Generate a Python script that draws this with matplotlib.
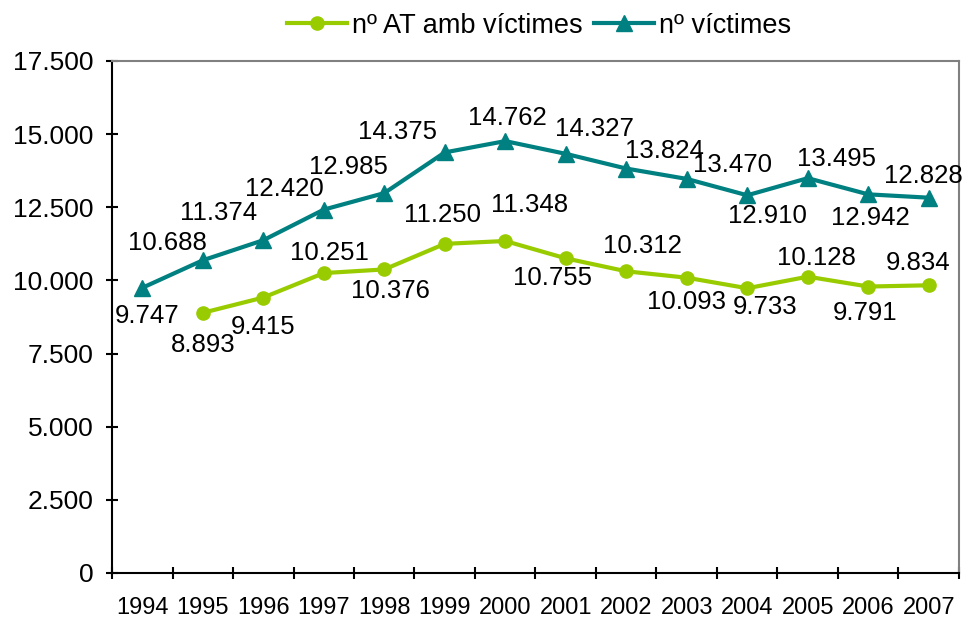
import numpy as np
import matplotlib.pyplot as plt
from matplotlib.ticker import FuncFormatter, FixedLocator

plt.rcParams['font.family'] = ['Liberation Sans', 'DejaVu Sans']

years = ["1994", "1995", "1996", "1997", "1998", "1999", "2000",
         "2001", "2002", "2003", "2004", "2005", "2006", "2007"]
# nº AT amb víctimes (no value for 1994)
accidents = [np.nan, 8893, 9415, 10251, 10376, 11250, 11348,
             10755, 10312, 10093, 9733, 10128, 9791, 9834]
# nº víctimes
victims = [9747, 10688, 11374, 12420, 12985, 14375, 14762,
           14327, 13824, 13470, 12910, 13495, 12942, 12828]

# label offsets in pixels (dx, dy, dy positive = up)
acc_offsets = [None, (0, -32), (0, -29), (6, 20), (6, -22), (-2, 29), (24, 36),
               (-13, -20), (16, 25), (0, -24), (18, -19), (9, 19), (-3, -26), (-11, 22)]
vic_offsets = [(5, -28), (-35, 17), (-45, 27), (-39, 21), (-36, 26), (-47, 20), (2, 23),
               (29, 25), (38, 18), (46, 14), (20, -21), (29, 19), (2, -24), (-5, 22)]

green = "#99CC00"
teal = "#008080"


def fmt(v, pos=None):
    return "{:,.0f}".format(v).replace(",", ".")


def main():
    fig = plt.figure(figsize=(9.65, 6.18), dpi=100)
    ax = fig.add_axes([112 / 965, 45 / 618, 847 / 965, 512 / 618])

    x = np.arange(len(years))
    l1, = ax.plot(x, accidents, color=green, lw=3, marker="o", markersize=9.5,
                  label="nº AT amb víctimes", zorder=3)
    l2, = ax.plot(x, victims, color=teal, lw=3, marker="^", markersize=11,
                  label="nº víctimes", zorder=3)

    for xi, v, off in zip(x, accidents, acc_offsets):
        if off is None or np.isnan(v):
            continue
        ax.annotate(fmt(v), (xi, v), xytext=off, textcoords="offset pixels",
                    ha="center", va="center", fontsize=18.5)
    for xi, v, off in zip(x, victims, vic_offsets):
        ax.annotate(fmt(v), (xi, v), xytext=off, textcoords="offset pixels",
                    ha="center", va="center", fontsize=18.5)

    ax.set_xlim(-0.5, len(years) - 0.5)
    ax.set_ylim(0, 17500)
    ax.set_yticks(np.arange(0, 17501, 2500))
    ax.yaxis.set_major_formatter(FuncFormatter(fmt))

    ax.set_xticks(x)
    ax.set_xticklabels(years)
    ax.xaxis.set_minor_locator(FixedLocator(np.arange(-0.5, len(years), 1.0)))
    ax.tick_params(axis="x", which="major", length=0, labelsize=17, pad=17)
    ax.tick_params(axis="x", which="minor", direction="inout", length=9, width=1.5)
    ax.tick_params(axis="y", direction="inout", length=9, width=1.5, labelsize=19, pad=9)

    for side in ["left", "bottom"]:
        ax.spines[side].set_linewidth(1.5)
        ax.spines[side].set_color("black")
    for side in ["top", "right"]:
        ax.spines[side].set_linewidth(1.5)
        ax.spines[side].set_color("#808080")

    fig.legend(handles=[l1, l2], loc="center", bbox_to_anchor=(0.5585, 0.958),
               ncol=2, frameon=False, fontsize=19.5, handlelength=2.2,
               handletextpad=0.18, columnspacing=0.44, borderpad=0.1)

    fig.savefig("out.png", dpi=100)
    plt.close(fig)


if __name__ == '__main__':
    main()
